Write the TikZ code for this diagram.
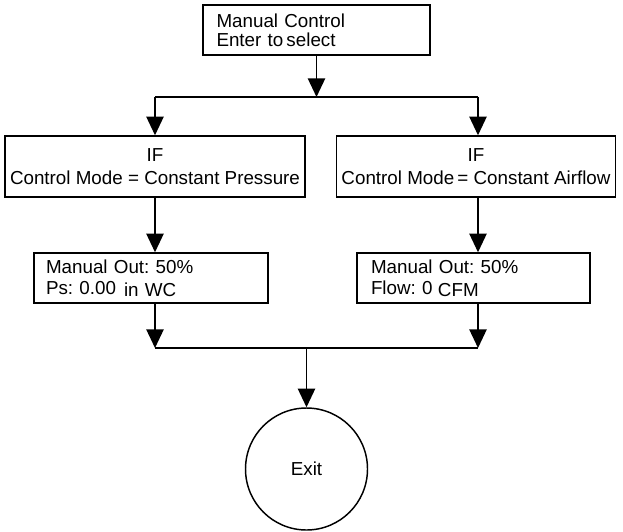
\documentclass[tikz,border=0pt]{standalone}
\usepackage{fontspec}
\setmainfont{Liberation Sans}
\frenchspacing
\usetikzlibrary{arrows.meta}
\begin{document}
\begin{tikzpicture}[x=0.75pt,y=-0.75pt,line width=1.1pt,
    font=\fontsize{14.1pt}{14.5pt}\selectfont,
    box/.style={draw,rectangle,inner sep=0pt,align=left},
    ifbox/.style={draw,rectangle,inner sep=0pt,align=center},
    arr/.style={-{Triangle[width=13pt,length=14pt]}}]
  \useasboundingbox (0,0) rectangle (623,531);
  % menu entry
  \node[box,minimum width=227*0.75pt,minimum height=50*0.75pt,text width=200*0.75pt] (mc) at (316.5,30)
    {Manual Control\\Enter to\,select};
  % split
  \coordinate (top) at (316.5,97);
  \coordinate (tl) at (155,97);
  \coordinate (tr) at (478,97);
  \draw[arr] (mc.south) -- (top);
  \draw (tl) -- (tr);
  % conditions
  \node[ifbox,minimum width=300*0.75pt,minimum height=61*0.75pt] (ifp) at (155,166.5)
    {IF\\[3pt]Control Mode = Constant Pressure};
  \node[ifbox,minimum width=279*0.75pt,minimum height=61*0.75pt] (ifa) at (476,166.5)
    {IF\\[3pt]Control Mode\,= Constant Airflow};
  \draw[arr] (tl) -- (tl |- ifp.north);
  \draw[arr] (tr) -- (tr |- ifa.north);
  % manual output screens
  \node[box,minimum width=234*0.75pt,minimum height=50*0.75pt,text width=210*0.75pt] (outp) at (151,278)
    {Manual Out: 50\%\\[1pt]Ps: 0.00\hspace{6pt}\raisebox{-1.5pt}{in WC}};
  \node[box,minimum width=233*0.75pt,minimum height=50*0.75pt,text width=205*0.75pt] (outa) at (473.5,278)
    {Manual Out: 50\%\\[1pt]Flow: 0\hspace{4pt}\raisebox{-1.5pt}{CFM}};
  \draw[arr] (tl |- ifp.south) -- (tl |- outp.north);
  \draw[arr] (tr |- ifa.south) -- (tr |- outa.north);
  % join
  \coordinate (bl) at (155,348);
  \coordinate (br) at (478,348);
  \coordinate (bm) at (306.5,348);
  \draw[arr] (bl |- outp.south) -- (bl);
  \draw[arr] (br |- outa.south) -- (br);
  \draw (bl) -- (br);
  % end
  \node[draw,circle,minimum size=122*0.75pt,inner sep=0pt] (exit) at (306.5,469) {Exit};
  \draw[arr] (bm) -- (exit.north);
\end{tikzpicture}
\end{document}
